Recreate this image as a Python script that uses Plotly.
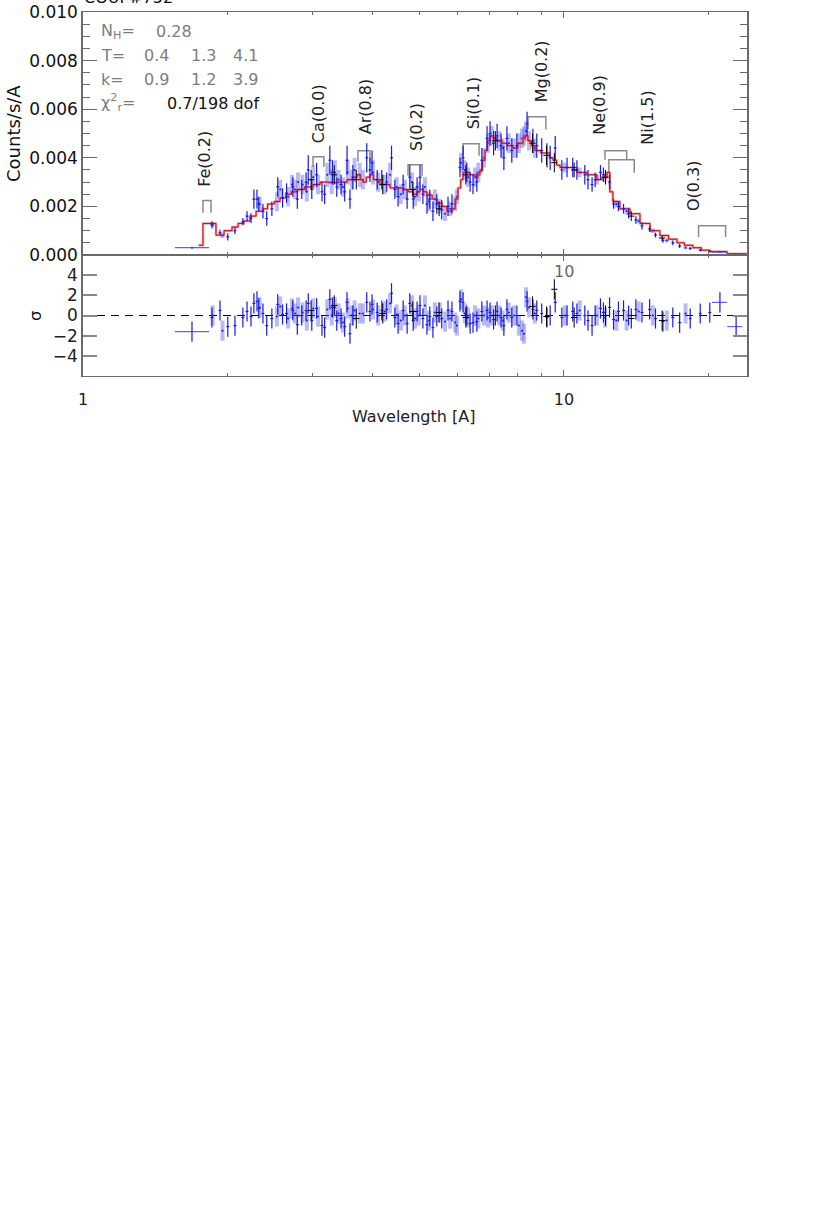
import numpy as np
import plotly.graph_objects as go

# ---------------- data ----------------
model_wl = [1.74, 1.776, 1.890, 1.964, 2.041, 2.101, 2.16, 2.225, 2.29, 2.367, 2.42, 2.50, 2.568, 2.64, 2.71,
            2.786, 2.89, 3.008, 3.110, 3.25, 3.40, 3.539, 3.642, 3.712, 3.77, 3.82, 3.88, 3.951, 4.02, 4.145,
            4.348, 4.628, 4.75, 4.855, 4.95, 5.020, 5.10, 5.191, 5.32, 5.445, 5.58, 5.712, 5.80, 5.850, 5.94,
            6.020, 6.10, 6.166, 6.27, 6.376, 6.531, 6.62, 6.689, 6.77, 6.852, 6.93, 7.018, 7.13, 7.256, 7.43,
            7.612, 7.834, 8.02, 8.218, 8.30, 8.417, 8.55, 8.703, 8.95, 9.221, 9.35, 9.488, 9.65, 9.810, 10.29,
            10.64, 11.16, 11.71, 12.00, 12.29, 12.46, 12.64, 13.07, 13.72, 14.39, 15.10, 15.83, 16.5, 17.18, 17.8,
            18.54, 19.3, 20.12, 21.83, 24.0]
model_y = [0.0004, 0.0013, 0.00082, 0.0010, 0.00115, 0.0013, 0.0014, 0.0016, 0.0018, 0.0019, 0.0021, 0.0022, 0.00235, 0.0025, 0.0026,
           0.0027, 0.0028, 0.0029, 0.0030, 0.00298, 0.0030, 0.0031, 0.0032, 0.0033, 0.0031, 0.0030, 0.0032, 0.0033, 0.0031, 0.0029,
           0.00276, 0.0027, 0.0026, 0.0025, 0.0026, 0.0027, 0.0026, 0.00247, 0.0023, 0.00214, 0.0020, 0.0018, 0.0018, 0.0019, 0.0023,
           0.00276, 0.0031, 0.0034, 0.0034, 0.0033, 0.0032, 0.0033, 0.0035, 0.0039, 0.0043, 0.0047, 0.0049, 0.0048, 0.0047, 0.0046,
           0.0045, 0.0044, 0.0046, 0.0048, 0.0049, 0.0047, 0.0045, 0.0043, 0.0042, 0.0042, 0.0040, 0.0039, 0.0037, 0.0036, 0.0036,
           0.0034, 0.0033, 0.0031, 0.0032, 0.0034, 0.0026, 0.0022, 0.0019, 0.0017, 0.0013, 0.0010, 0.0008, 0.00065, 0.0005, 0.0004,
           0.0003, 0.0002, 0.00014, 0.00005, 0.00005]

# dark blue spectrum (narrow bins)
blue_wl = [1.854, 1.927, 2.00, 2.07, 2.15, 2.193, 2.235, 2.266, 2.30, 2.32,
           2.367, 2.41, 2.47, 2.54, 2.60, 2.65, 2.73, 2.79, 2.85, 2.91,
           2.94, 2.99, 3.06, 3.14, 3.18, 3.26, 3.30, 3.37, 3.44, 3.50,
           3.54, 3.59, 3.64, 3.89, 3.95, 3.99, 4.09, 4.18, 4.28, 4.38,
           4.45, 4.52, 4.63, 4.72, 4.78, 4.86, 4.95, 5.02, 5.09, 5.19,
           5.26, 5.34, 5.44, 5.57, 5.74, 5.85, 6.08, 6.17, 6.28, 6.38,
           6.47, 6.59, 6.75, 6.92, 7.02, 7.14, 7.26, 7.40, 7.50, 7.61,
           7.79, 7.98, 8.38, 8.62, 8.78, 8.99, 9.22, 9.36, 9.59, 9.90,
           10.15, 10.43, 10.64, 11.05, 11.22, 11.44, 11.61, 11.91, 12.08, 12.44,
           12.68, 12.98, 13.30, 13.63, 14.11, 14.53, 15.07, 15.50, 16.06, 16.84,
           17.4, 18.3, 19.2, 20.1]
blue_y = [0.00124, 0.00092, 0.00075, 0.00100, 0.00137, 0.00160, 0.00152, 0.0023, 0.0023, 0.0021,
          0.0018, 0.0015, 0.0019, 0.0028, 0.00235, 0.00255, 0.0028, 0.0023, 0.0027, 0.0030,
          0.0035, 0.0027, 0.0033, 0.0026, 0.0025, 0.0039, 0.0034, 0.0028, 0.0029, 0.0026,
          0.0039, 0.0023, 0.0032, 0.0040, 0.0035, 0.0038, 0.0031, 0.0031, 0.0030, 0.0040,
          0.0027, 0.0024, 0.0029, 0.0023, 0.0032, 0.0023, 0.0028, 0.0032, 0.0025, 0.0021,
          0.0023, 0.0018, 0.0021, 0.00186, 0.0020, 0.0021, 0.0036, 0.0040, 0.0034, 0.0030,
          0.0029, 0.0030, 0.0039, 0.0048, 0.0050, 0.0046, 0.0049, 0.0045, 0.0040, 0.0048,
          0.0043, 0.0045, 0.0054, 0.0047, 0.0045, 0.0043, 0.0041, 0.0040, 0.0044, 0.0035,
          0.0036, 0.0036, 0.0035, 0.0033, 0.0031, 0.0029, 0.0031, 0.0034, 0.0033, 0.0030,
          0.0021, 0.0020, 0.0019, 0.0017, 0.00144, 0.0012, 0.00107, 0.00082, 0.0006, 0.0005,
          0.00037, 0.00027, 0.0002, 0.00015]
blue_err = [0.00015, 0.00012, 0.00015, 0.00015, 0.00015, 0.0002, 0.0002, 0.0004, 0.0004, 0.0003,
            0.0003, 0.0003, 0.0003, 0.0004, 0.0004, 0.0004, 0.0004, 0.0004, 0.0004, 0.0004,
            0.0006, 0.0004, 0.0005, 0.0004, 0.0004, 0.0006, 0.0005, 0.0004, 0.0004, 0.0004,
            0.0006, 0.0004, 0.0005, 0.0006, 0.0005, 0.0005, 0.0004, 0.0004, 0.0004, 0.0005,
            0.0004, 0.0004, 0.0004, 0.0004, 0.0005, 0.0004, 0.0004, 0.0005, 0.0004, 0.0004,
            0.0004, 0.0004, 0.0004, 0.0004, 0.0004, 0.0004, 0.0004, 0.0005, 0.0004, 0.0004,
            0.0004, 0.0004, 0.0005, 0.0005, 0.0005, 0.0005, 0.0005, 0.0005, 0.0005, 0.0005,
            0.0005, 0.0005, 0.0005, 0.0005, 0.0005, 0.0005, 0.0005, 0.0005, 0.0005, 0.0004,
            0.0004, 0.0004, 0.0004, 0.0004, 0.0004, 0.0003, 0.0003, 0.0003, 0.0003, 0.0003,
            0.0002, 0.0002, 0.0002, 0.0002, 0.00015, 0.00015, 0.00012, 0.0001, 0.0001, 0.0001,
            0.00008, 0.00006, 0.00005, 0.00004]
blue_res = [-0.2, 0.5, -1.1, -1.0, -0.2, 0.4, -0.1, 1.2, 1.4, 0.7,
            0.2, -1.0, -0.3, 1.1, 0.1, 0.2, 0.5, -0.9, 0.0, 0.5,
            1.2, -0.5, 0.7, -1.0, -1.2, 1.6, 0.8, -0.5, -0.3, -1.1,
            1.3, -1.8, 0.0, 1.3, 0.4, 1.1, 0.3, 0.5, 0.6, 2.2,
            -0.2, -0.8, 0.5, -0.8, 1.2, -0.5, 0.4, 1.0, -0.3, -0.9,
            -0.1, -1.2, -0.1, -0.3, 0.5, 0.4, 1.4, 1.3, 0.0, -0.8,
            -0.7, -0.6, 0.4, 0.5, 0.3, -0.4, 0.4, -0.2, -1.0, 0.6,
            -0.2, 0.0, 1.4, 0.6, 0.5, 0.2, -0.2, 0.0, 1.3, -0.2,
            0.0, 0.4, 0.2, 0.0, -0.5, -1.0, 0.0, 0.7, 0.3, 0.8,
            -0.4, 0.4, 0.5, 0.0, 0.6, 0.3, 0.6, -0.3, -0.6, -0.2,
            -0.7, -0.3, 0.2, 0.3]

# dark blue spectrum (wide bins at the ends)
wide_wl = [1.685, 21.1, 22.8]
wide_lo = [1.553, 20.3, 21.85]
wide_hi = [1.828, 21.85, 23.5]
wide_y = [0.0003, 0.00012, 0.00003]
wide_err = [0.00004, 0.00003, 0.00002]
wide_res = [-1.6, 1.3, -1.1]

# light blue spectrum
lb_wl = [1.86, 1.95, 2.33, 2.53, 2.57,
         2.67, 2.72, 2.76, 2.80, 2.86,
         2.92, 3.01, 3.08, 3.22, 3.29,
         3.34, 3.40, 3.47, 3.55, 3.62,
         3.67, 3.76, 3.82, 4.01, 4.11,
         4.24, 4.35, 4.49, 4.58, 4.67,
         4.83, 4.90, 4.99, 5.14, 5.24,
         5.39, 5.52, 5.66, 5.80, 5.94,
         5.99, 6.11, 6.22, 6.32, 6.53,
         6.64, 6.82, 6.95, 7.08, 7.33,
         7.46, 7.68, 7.87, 8.06, 8.18,
         8.26, 8.34, 8.46, 8.70, 10.05,
         10.78, 11.71, 12.18, 12.85, 13.5,
         14.3, 15.3, 16.36, 17.9]
lb_y = [0.00125, 0.0008, 0.0021, 0.0022, 0.0027,
        0.0024, 0.0029, 0.0027, 0.0030, 0.0029,
        0.0026, 0.0032, 0.0029, 0.0033, 0.0030,
        0.0034, 0.0031, 0.0028, 0.0034, 0.0031,
        0.0035, 0.0033, 0.0031, 0.0034, 0.0030,
        0.0029, 0.0033, 0.0028, 0.0025, 0.0027,
        0.0030, 0.0024, 0.0026, 0.0028, 0.0022,
        0.0023, 0.0020, 0.0017, 0.0019, 0.0021,
        0.0024, 0.0038, 0.0035, 0.0032, 0.0032,
        0.0034, 0.0040, 0.0046, 0.0049, 0.0047,
        0.0044, 0.0046, 0.0044, 0.0046, 0.0048,
        0.0049, 0.0051, 0.0047, 0.0044, 0.0036,
        0.0034, 0.0031, 0.0032, 0.0021, 0.0018,
        0.0014, 0.0010, 0.0006, 0.0003]
lb_err = [0.0001, 0.0001, 0.0003, 0.0004, 0.0004,
          0.0004, 0.0004, 0.0004, 0.0004, 0.0004,
          0.0004, 0.0005, 0.0004, 0.0005, 0.0005,
          0.0005, 0.0004, 0.0004, 0.0005, 0.0004,
          0.0005, 0.0005, 0.0004, 0.0005, 0.0004,
          0.0004, 0.0005, 0.0004, 0.0004, 0.0004,
          0.0004, 0.0004, 0.0004, 0.0004, 0.0004,
          0.0004, 0.0003, 0.0003, 0.0003, 0.0003,
          0.0003, 0.0004, 0.0004, 0.0004, 0.0004,
          0.0004, 0.0004, 0.0004, 0.0004, 0.0004,
          0.0004, 0.0004, 0.0004, 0.0004, 0.0004,
          0.0004, 0.0004, 0.0004, 0.0004, 0.0002,
          0.0002, 0.0002, 0.0002, 0.00015, 0.00015,
          0.0001, 0.0001, 0.00008, 0.00006]
lb_res = [0.0, -1.5, 0.8, -0.1, 0.9,
          -0.3, 0.7, 0.2, 0.8, 0.3,
          -0.5, 0.7, -0.1, 0.6, 0.0,
          0.8, 0.2, -0.7, 0.7, 0.0,
          0.5, 0.2, 0.2, 0.6, 0.0,
          0.4, 1.2, 0.1, -0.5, 0.0,
          1.0, -0.3, 0.0, 1.0, -0.5,
          0.3, 0.3, -0.6, -0.3, -0.7,
          -1.0, 1.6, 0.2, -0.2, 0.0,
          -0.3, 0.0, -0.2, 0.0, 0.0,
          -0.5, 0.3, 0.0, -1.0, -1.5,
          -1.8, 1.8, 0.8, 0.2, 0.0,
          0.5, 0.0, -0.2, -0.5, -0.5,
          0.4, 0.0, -0.5, 0.2]

# black spectrum
bk_wl = [2.98, 3.33, 3.70, 4.20, 4.85, 5.50, 6.25, 7.20, 8.60, 9.20, 9.55, 10.5, 12.2, 13.8, 16.0]
bk_y = [0.0031, 0.0033, 0.0031, 0.0029, 0.0027, 0.0019, 0.0033, 0.0047, 0.0046, 0.0041, 0.0038, 0.0035, 0.0032, 0.0016, 0.0007]
bk_err = [0.0004, 0.0004, 0.0004, 0.0004, 0.0003, 0.0003, 0.0004, 0.0004, 0.0004, 0.0004, 0.0004, 0.0003, 0.0003, 0.0002, 0.0001]
bk_res = [0.5, 1.0, -0.3, 0.2, 0.4, 0.3, -0.2, 0.0, 0.9, -0.1, 2.6, -0.2, 0.0, -0.3, -0.5]

# line identifications
line_names = ["Fe(0.2)", "Ca(0.0)", "Ar(0.8)", "S(0.2)", "Si(0.1)", "Mg(0.2)", "Ne(0.9)", "Ni(1.5)", "O(0.3)"]
line_lab_wl = [1.793, 3.08, 3.858, 4.95, 6.47, 8.99, 11.89, 14.94, 18.6]
line_lab_y = [0.00272, 0.00454, 0.00487, 0.0042, 0.00507, 0.00619, 0.00487, 0.00445, 0.00173]
br_lo = [1.776, 3.008, 3.73, 4.74, 6.17, 8.42, 12.17, 12.4, 19.05]
br_hi = [1.846, 3.168, 3.95, 5.07, 6.66, 9.17, 13.5, 14.0, 21.68]
br_top = [0.00224, 0.00404, 0.00429, 0.00371, 0.00458, 0.00569, 0.00429, 0.00392, 0.0012]
br_bot = [0.00174, 0.00363, 0.00384, 0.00326, 0.00408, 0.00516, 0.00392, 0.00338, 0.00074]

y_ticks = [0.0, 0.002, 0.004, 0.006, 0.008, 0.010]
res_ticks = [-4, -2, 0, 2, 4]

# ---------------- figure ----------------
W, H = 830, 1214
def pxx(x):
    return x / W
def pyy(y):
    return 1 - y / H

FONT = "DejaVu Sans, Liberation Sans, sans-serif"
DBLUE = "rgb(25,25,230)"
LBLUE = "rgba(90,90,235,0.42)"

fig = go.Figure()

# brackets
for lo, hi, tp, bt in zip(br_lo, br_hi, br_top, br_bot):
    fig.add_trace(go.Scatter(x=[lo, lo, hi, hi], y=[bt, tp, tp, bt], mode="lines",
                             line=dict(color="#8a8a8a", width=1.5), xaxis="x", yaxis="y"))

# light blue spectrum
fig.add_trace(go.Scatter(x=lb_wl, y=lb_y, mode="markers", marker=dict(size=2, color=DBLUE),
                         error_y=dict(type="data", array=lb_err, thickness=4, width=0, color=LBLUE),
                         error_x=dict(type="percent", value=0.5, thickness=1, width=0, color=LBLUE),
                         xaxis="x", yaxis="y"))
# model
fig.add_trace(go.Scatter(x=model_wl, y=model_y, mode="lines", line_shape="hv",
                         line=dict(color="rgba(235,110,110,0.6)", width=2.5), xaxis="x", yaxis="y"))
fig.add_trace(go.Scatter(x=model_wl, y=model_y, mode="lines", line_shape="hv",
                         line=dict(color="rgb(215,0,0)", width=1), xaxis="x", yaxis="y"))
# dark blue spectrum
fig.add_trace(go.Scatter(x=blue_wl, y=blue_y, mode="markers", marker=dict(size=1, color=DBLUE),
                         error_y=dict(type="data", array=blue_err, thickness=1.2, width=0, color=DBLUE),
                         error_x=dict(type="percent", value=0.7, thickness=1.2, width=0, color=DBLUE),
                         xaxis="x", yaxis="y"))
fig.add_trace(go.Scatter(x=wide_wl, y=wide_y, mode="markers", marker=dict(size=1, color=DBLUE),
                         error_y=dict(type="data", array=wide_err, thickness=1.2, width=0, color=DBLUE),
                         error_x=dict(type="data", array=[h - c for h, c in zip(wide_hi, wide_wl)],
                                      arrayminus=[c - l for l, c in zip(wide_lo, wide_wl)],
                                      thickness=1.2, width=0, color="rgba(60,60,235,0.8)"),
                         xaxis="x", yaxis="y"))
# black spectrum
fig.add_trace(go.Scatter(x=bk_wl, y=bk_y, mode="markers", marker=dict(size=1, color="black"),
                         error_y=dict(type="data", array=bk_err, thickness=1, width=0, color="black"),
                         error_x=dict(type="percent", value=1.5, thickness=1, width=0, color="black"),
                         xaxis="x", yaxis="y"))

# residual panel
fig.add_trace(go.Scatter(x=[1, 24], y=[0, 0], mode="lines",
                         line=dict(color="black", width=1, dash="8px,6px"), xaxis="x2", yaxis="y2"))
fig.add_trace(go.Scatter(x=lb_wl, y=lb_res, mode="markers", marker=dict(size=2, color=DBLUE),
                         error_y=dict(type="constant", value=1, thickness=4, width=0, color=LBLUE),
                         error_x=dict(type="percent", value=0.5, thickness=1, width=0, color=LBLUE),
                         xaxis="x2", yaxis="y2"))
fig.add_trace(go.Scatter(x=blue_wl, y=blue_res, mode="markers", marker=dict(size=1, color=DBLUE),
                         error_y=dict(type="constant", value=1, thickness=1.2, width=0, color=DBLUE),
                         error_x=dict(type="percent", value=0.7, thickness=1.2, width=0, color=DBLUE),
                         xaxis="x2", yaxis="y2"))
fig.add_trace(go.Scatter(x=wide_wl, y=wide_res, mode="markers", marker=dict(size=1, color=DBLUE),
                         error_y=dict(type="constant", value=1, thickness=1.2, width=0, color=DBLUE),
                         error_x=dict(type="data", array=[h - c for h, c in zip(wide_hi, wide_wl)],
                                      arrayminus=[c - l for l, c in zip(wide_lo, wide_wl)],
                                      thickness=1.2, width=0, color="rgba(60,60,235,0.8)"),
                         xaxis="x2", yaxis="y2"))
fig.add_trace(go.Scatter(x=bk_wl, y=bk_res, mode="markers", marker=dict(size=1, color="black"),
                         error_y=dict(type="constant", value=1, thickness=1, width=0, color="black"),
                         error_x=dict(type="percent", value=1.5, thickness=1, width=0, color="black"),
                         xaxis="x2", yaxis="y2"))

ann = []
# line labels
for name, wl, yy in zip(line_names, line_lab_wl, line_lab_y):
    ann.append(dict(text=name, x=np.log10(wl), y=yy, xref="x", yref="y", textangle=-90,
                    xanchor="center", yanchor="bottom", showarrow=False,
                    font=dict(family=FONT, size=16, color="#222")))

GREY = "#7d7d7d"
def txt(t, x, y, color=GREY, size=16, anchor="left", angle=0):
    ann.append(dict(text=t, x=pxx(x), y=pyy(y), xref="paper", yref="paper", xanchor=anchor,
                    yanchor="middle", showarrow=False, textangle=angle,
                    font=dict(family=FONT, size=size, color=color)))

txt("N<sub>H</sub>=", 99, 32)
txt("0.28", 154, 32)
txt("T=", 99, 56)
txt("0.4", 142, 56)
txt("1.3", 189, 56)
txt("4.1", 231, 56)
txt("k=", 99, 80)
txt("0.9", 142, 80)
txt("1.2", 189, 80)
txt("3.9", 231, 80)
txt("χ<sup>2</sup><sub>r</sub>=", 99, 103)
txt("0.7/198 dof", 165, 104, color="#111")
txt("Counts/s/A", 13, 134, color="#111", size=18, anchor="center", angle=-90)
txt("σ", 35, 316, color="#111", size=16, anchor="center", angle=-90)
txt("Wavelength [A]", 413, 416, color="#222", size=16, anchor="center")
ann.append(dict(text="COUP#752", x=pxx(82), y=pyy(9), xref="paper", yref="paper",
                xanchor="left", yanchor="bottom", showarrow=False,
                font=dict(family=FONT, size=16, color="#111")))
ann.append(dict(text="10", x=1.0, y=4.4, xref="x2", yref="y2", xanchor="center", yanchor="middle",
                showarrow=False, font=dict(family=FONT, size=16, color="#666")))

AX = "#6a6a6a"
xcommon = dict(type="log", range=[0, np.log10(24.02)], domain=[pxx(83), pxx(747)], automargin=False,
               showgrid=False, zeroline=False, showline=True, linecolor=AX, linewidth=1.2,
               mirror="ticks", ticks="inside", ticklen=6, tickcolor=AX, tickwidth=1,
               minor=dict(tickmode="array", tickvals=[2, 3, 4, 5, 6, 7, 8, 9, 20], ticks="inside",
                          ticklen=3, tickcolor=AX, showgrid=False),
               tickfont=dict(family=FONT, size=16, color="#222"))

fig.update_layout(
    width=W, height=H, margin=dict(l=0, r=0, t=0, b=0, pad=0),
    paper_bgcolor="white", plot_bgcolor="white", showlegend=False,
    xaxis=dict(xcommon, anchor="y", tickvals=[10], showticklabels=False),
    xaxis2=dict(xcommon, anchor="y2", tickvals=[1, 10], ticktext=["1", "10"],
                ticklabelstandoff=9),
    yaxis=dict(domain=[pyy(255), pyy(12)], range=[0, 0.010], tickvals=y_ticks, tickformat=".3f",
               automargin=False,
               showgrid=False, zeroline=False, showline=True, linecolor=AX, linewidth=1.5,
               mirror="ticks", ticks="inside", ticklen=14, tickcolor=AX, tickwidth=1,
               minor=dict(dtick=0.0005, tick0=0, ticks="inside", ticklen=7, tickcolor=AX, showgrid=False),
               tickfont=dict(family=FONT, size=17, color="#111"), anchor="x"),
    yaxis2=dict(domain=[pyy(376), pyy(255)], range=[-6, 6], tickvals=res_ticks, automargin=False,
                showgrid=False, zeroline=False, showline=True, linecolor=AX, linewidth=1.5,
                mirror="ticks", ticks="inside", ticklen=14, tickcolor="#888", tickwidth=1.5,
                tickfont=dict(family=FONT, size=17, color="#222"), anchor="x2"),
    annotations=ann,
    hovermode=False,
)

fig.write_html("out.html", config={"displayModeBar": False},
               post_script="document.body.style.margin='0px';")
